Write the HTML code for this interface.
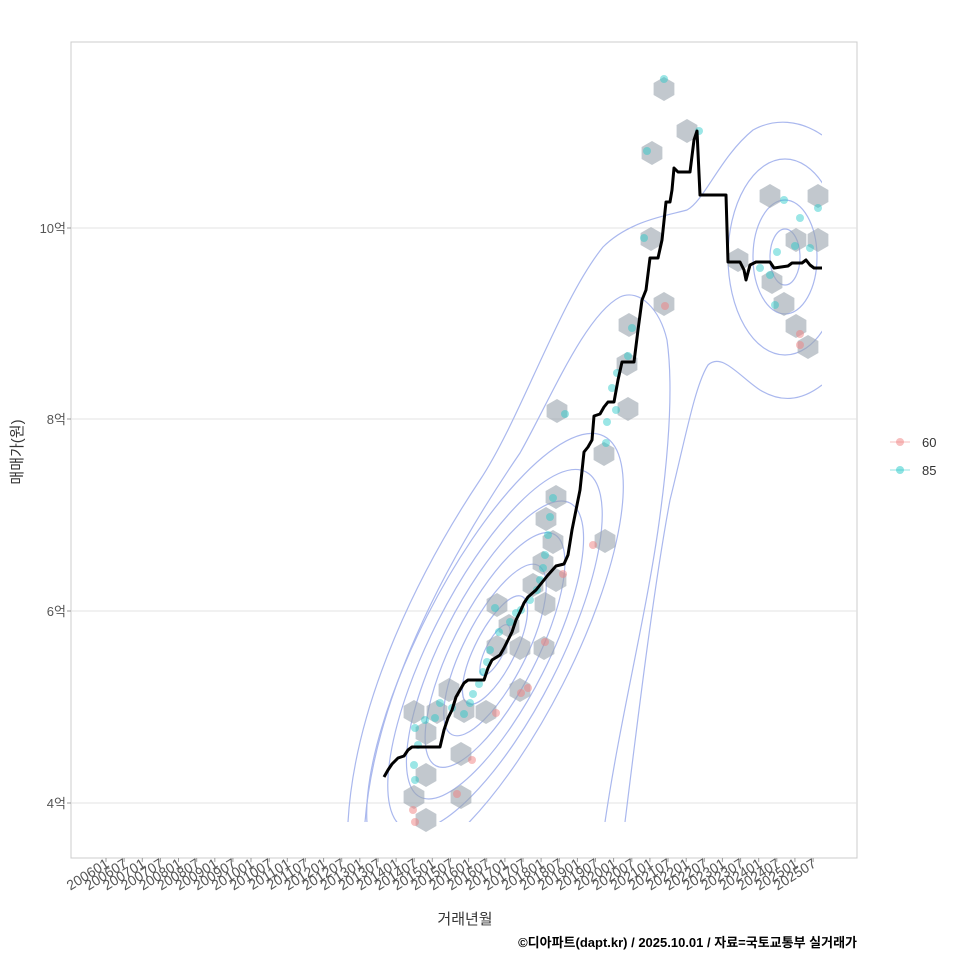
<!DOCTYPE html>
<html><head><meta charset="utf-8"><style>
html,body{margin:0;padding:0;background:#fff;overflow:hidden;width:960px;height:960px}
svg{display:block}
</style></head><body>
<svg width="960" height="960" viewBox="0 0 960 960" xmlns="http://www.w3.org/2000/svg" font-family="Liberation Sans, Noto Sans CJK KR, sans-serif">
<defs>
<clipPath id="kc"><rect x="300" y="60" width="522" height="762"/></clipPath>
<polygon id="hx" points="0,-12 10.4,-6 10.4,6 0,12 -10.4,6 -10.4,-6"/>
</defs>
<rect x="71" y="42" width="786" height="816" fill="#fff" stroke="#ccc"/>
<g stroke="#e3e3e3" stroke-width="1">
<line x1="71" x2="857" y1="228" y2="228"/><line x1="71" x2="857" y1="419" y2="419"/>
<line x1="71" x2="857" y1="611" y2="611"/><line x1="71" x2="857" y1="803" y2="803"/>
</g>
<g clip-path="url(#kc)" fill="none" stroke="#aab8ee" stroke-width="1.2">
<g transform="translate(495,650) rotate(-63)">
<ellipse rx="28" ry="9"/><ellipse rx="60" ry="20"/><ellipse rx="95" ry="31"/><ellipse rx="130" ry="42"/>
<ellipse rx="165" ry="53"/><ellipse rx="200" ry="64"/><ellipse rx="240" ry="76"/>
</g>
<path d="M348,822 C355,700 420,570 480,480 C520,420 560,300 603,247 C630,220 670,215 687,210 C705,200 720,157 753,130 C775,118 800,120 822,135"/>
<path d="M365,822 C375,700 440,570 520,453 C550,400 585,315 620,297 C640,288 660,310 667,340 C674,390 668,460 658,530 C645,620 620,720 605,822"/>
<path d="M822,385 C800,402 780,402 760,390 C740,377 722,352 708,365 C695,385 685,440 670,500 C655,580 640,700 625,822"/>
<g transform="translate(785,257)">
<ellipse rx="15" ry="28"/><ellipse rx="32" ry="57"/><ellipse rx="57" ry="98"/>
</g>
</g>
<g fill="#9aa3ad" fill-opacity="0.6">
<use href="#hx" x="664" y="89"/><use href="#hx" x="687" y="131"/><use href="#hx" x="652" y="153"/><use href="#hx" x="651" y="239"/>
<use href="#hx" x="664" y="304"/><use href="#hx" x="629" y="325"/><use href="#hx" x="627" y="364"/><use href="#hx" x="628" y="409"/>
<use href="#hx" x="557" y="411"/><use href="#hx" x="604" y="454"/><use href="#hx" x="556" y="497"/><use href="#hx" x="546" y="519"/>
<use href="#hx" x="553" y="542"/><use href="#hx" x="605" y="541"/><use href="#hx" x="543" y="563"/><use href="#hx" x="556" y="580"/>
<use href="#hx" x="545" y="604"/><use href="#hx" x="509" y="626"/><use href="#hx" x="497" y="605"/><use href="#hx" x="497" y="647"/>
<use href="#hx" x="544" y="648"/><use href="#hx" x="520" y="690"/><use href="#hx" x="486" y="712"/><use href="#hx" x="464" y="711"/>
<use href="#hx" x="449" y="690"/><use href="#hx" x="414" y="712"/><use href="#hx" x="426" y="733"/><use href="#hx" x="437" y="712"/>
<use href="#hx" x="461" y="754"/><use href="#hx" x="426" y="775"/><use href="#hx" x="414" y="797"/><use href="#hx" x="461" y="797"/>
<use href="#hx" x="426" y="820"/><use href="#hx" x="738" y="260"/><use href="#hx" x="770" y="196"/><use href="#hx" x="818" y="196"/>
<use href="#hx" x="796" y="240"/><use href="#hx" x="818" y="240"/><use href="#hx" x="772" y="282"/><use href="#hx" x="784" y="304"/>
<use href="#hx" x="796" y="326"/><use href="#hx" x="808" y="347"/><use href="#hx" x="533" y="585"/><use href="#hx" x="520" y="648"/>
</g>
<g fill="#22c7c7" fill-opacity="0.45">
<circle cx="664" cy="79" r="4"/><circle cx="647" cy="151" r="4"/><circle cx="644" cy="238" r="4"/><circle cx="632" cy="328" r="4"/>
<circle cx="628" cy="356" r="4"/><circle cx="617" cy="373" r="4"/><circle cx="612" cy="388" r="4"/><circle cx="616" cy="410" r="4"/>
<circle cx="607" cy="422" r="4"/><circle cx="606" cy="443" r="4"/><circle cx="553" cy="498" r="4"/><circle cx="550" cy="517" r="4"/>
<circle cx="548" cy="535" r="4"/><circle cx="545" cy="555" r="4"/><circle cx="543" cy="568" r="4"/><circle cx="540" cy="580" r="4"/>
<circle cx="537" cy="590" r="4"/><circle cx="530" cy="600" r="4"/><circle cx="521" cy="610" r="4"/><circle cx="516" cy="613" r="4"/>
<circle cx="510" cy="622" r="4"/><circle cx="499" cy="632" r="4"/><circle cx="490" cy="650" r="4"/><circle cx="487" cy="662" r="4"/>
<circle cx="483" cy="672" r="4"/><circle cx="479" cy="684" r="4"/><circle cx="473" cy="694" r="4"/><circle cx="470" cy="703" r="4"/>
<circle cx="464" cy="714" r="4"/><circle cx="452" cy="708" r="4"/><circle cx="440" cy="703" r="4"/><circle cx="435" cy="718" r="4"/>
<circle cx="425" cy="720" r="4"/><circle cx="415" cy="728" r="4"/><circle cx="418" cy="745" r="4"/><circle cx="414" cy="765" r="4"/>
<circle cx="415" cy="780" r="4"/><circle cx="495" cy="608" r="4"/><circle cx="699" cy="131" r="4"/><circle cx="784" cy="200" r="4"/>
<circle cx="800" cy="218" r="4"/><circle cx="818" cy="208" r="4"/><circle cx="777" cy="252" r="4"/><circle cx="795" cy="246" r="4"/>
<circle cx="810" cy="248" r="4"/><circle cx="770" cy="275" r="4"/><circle cx="775" cy="305" r="4"/><circle cx="760" cy="268" r="4"/>
<circle cx="565" cy="414" r="4"/>
</g>
<g fill="#f08080" fill-opacity="0.5">
<circle cx="665" cy="306" r="4"/><circle cx="593" cy="545" r="4"/><circle cx="563" cy="574" r="4"/><circle cx="545" cy="642" r="4"/>
<circle cx="528" cy="688" r="4"/><circle cx="521" cy="693" r="4"/><circle cx="496" cy="713" r="4"/><circle cx="472" cy="760" r="4"/>
<circle cx="457" cy="794" r="4"/><circle cx="413" cy="810" r="4"/><circle cx="415" cy="822" r="4"/><circle cx="800" cy="334" r="4"/>
<circle cx="800" cy="345" r="4"/>
</g>
<polyline fill="none" stroke="#000" stroke-width="3" stroke-linejoin="round" points="384,777 388,770 392,764 398,758 404,756 408,750 412,747 440,747 444,730 448,718 452,710 456,697 460,690 464,683 468,680 484,680 488,668 492,660 500,655 504,648 508,640 512,632 516,620 520,612 524,603 528,597 536,590 540,585 544,580 548,575 556,566 564,564 568,555 572,530 576,510 580,490 584,452 588,447 592,440 594,416 600,414 604,407 608,402 614,402 618,380 622,362 634,362 638,330 642,300 646,290 650,258 658,258 662,240 666,202 670,202 672,190 674,168 678,172 690,172 694,140 697,131 700,195 726,195 728,262 740,262 744,270 746,280 750,265 756,262 770,262 774,268 788,266 792,263 802,263 806,260 810,265 814,268 822,268"/>
<g font-size="13" fill="#555" text-anchor="end">
<text x="66" y="233">10억</text><text x="66" y="424">8억</text><text x="66" y="616">6억</text><text x="66" y="808">4억</text>
</g>
<g stroke="#999"><line x1="67" x2="71" y1="228" y2="228"/><line x1="67" x2="71" y1="419" y2="419"/><line x1="67" x2="71" y1="611" y2="611"/><line x1="67" x2="71" y1="803" y2="803"/></g>
<g stroke="#999">
<line x1="106" x2="106" y1="858" y2="862"/><line x1="124.1" x2="124.1" y1="858" y2="862"/><line x1="142.3" x2="142.3" y1="858" y2="862"/><line x1="160.4" x2="160.4" y1="858" y2="862"/><line x1="178.5" x2="178.5" y1="858" y2="862"/><line x1="196.7" x2="196.7" y1="858" y2="862"/><line x1="214.8" x2="214.8" y1="858" y2="862"/><line x1="232.9" x2="232.9" y1="858" y2="862"/><line x1="251" x2="251" y1="858" y2="862"/><line x1="269.2" x2="269.2" y1="858" y2="862"/><line x1="287.3" x2="287.3" y1="858" y2="862"/><line x1="305.4" x2="305.4" y1="858" y2="862"/><line x1="323.6" x2="323.6" y1="858" y2="862"/><line x1="341.7" x2="341.7" y1="858" y2="862"/><line x1="359.8" x2="359.8" y1="858" y2="862"/><line x1="378" x2="378" y1="858" y2="862"/><line x1="396.1" x2="396.1" y1="858" y2="862"/><line x1="414.2" x2="414.2" y1="858" y2="862"/><line x1="432.3" x2="432.3" y1="858" y2="862"/><line x1="450.5" x2="450.5" y1="858" y2="862"/><line x1="468.6" x2="468.6" y1="858" y2="862"/><line x1="486.7" x2="486.7" y1="858" y2="862"/><line x1="504.9" x2="504.9" y1="858" y2="862"/><line x1="523" x2="523" y1="858" y2="862"/><line x1="541.1" x2="541.1" y1="858" y2="862"/><line x1="559.3" x2="559.3" y1="858" y2="862"/><line x1="577.4" x2="577.4" y1="858" y2="862"/><line x1="595.5" x2="595.5" y1="858" y2="862"/><line x1="613.6" x2="613.6" y1="858" y2="862"/><line x1="631.8" x2="631.8" y1="858" y2="862"/><line x1="649.9" x2="649.9" y1="858" y2="862"/><line x1="668" x2="668" y1="858" y2="862"/><line x1="686.2" x2="686.2" y1="858" y2="862"/><line x1="704.3" x2="704.3" y1="858" y2="862"/><line x1="722.4" x2="722.4" y1="858" y2="862"/><line x1="740.6" x2="740.6" y1="858" y2="862"/><line x1="758.7" x2="758.7" y1="858" y2="862"/><line x1="776.8" x2="776.8" y1="858" y2="862"/><line x1="794.9" x2="794.9" y1="858" y2="862"/><line x1="813.1" x2="813.1" y1="858" y2="862"/>
</g>
<g font-size="14" fill="#555" text-anchor="end">
<text transform="translate(110,866) rotate(-32)">200601</text><text transform="translate(128.1,866) rotate(-32)">200607</text><text transform="translate(146.3,866) rotate(-32)">200701</text><text transform="translate(164.4,866) rotate(-32)">200707</text><text transform="translate(182.5,866) rotate(-32)">200801</text><text transform="translate(200.7,866) rotate(-32)">200807</text><text transform="translate(218.8,866) rotate(-32)">200901</text><text transform="translate(236.9,866) rotate(-32)">200907</text><text transform="translate(255,866) rotate(-32)">201001</text><text transform="translate(273.2,866) rotate(-32)">201007</text><text transform="translate(291.3,866) rotate(-32)">201101</text><text transform="translate(309.4,866) rotate(-32)">201107</text><text transform="translate(327.6,866) rotate(-32)">201201</text><text transform="translate(345.7,866) rotate(-32)">201207</text><text transform="translate(363.8,866) rotate(-32)">201301</text><text transform="translate(382,866) rotate(-32)">201307</text><text transform="translate(400.1,866) rotate(-32)">201401</text><text transform="translate(418.2,866) rotate(-32)">201407</text><text transform="translate(436.3,866) rotate(-32)">201501</text><text transform="translate(454.5,866) rotate(-32)">201507</text><text transform="translate(472.6,866) rotate(-32)">201601</text><text transform="translate(490.7,866) rotate(-32)">201607</text><text transform="translate(508.9,866) rotate(-32)">201701</text><text transform="translate(527,866) rotate(-32)">201707</text><text transform="translate(545.1,866) rotate(-32)">201801</text><text transform="translate(563.3,866) rotate(-32)">201807</text><text transform="translate(581.4,866) rotate(-32)">201901</text><text transform="translate(599.5,866) rotate(-32)">201907</text><text transform="translate(617.6,866) rotate(-32)">202001</text><text transform="translate(635.8,866) rotate(-32)">202007</text><text transform="translate(653.9,866) rotate(-32)">202101</text><text transform="translate(672,866) rotate(-32)">202107</text><text transform="translate(690.2,866) rotate(-32)">202201</text><text transform="translate(708.3,866) rotate(-32)">202207</text><text transform="translate(726.4,866) rotate(-32)">202301</text><text transform="translate(744.6,866) rotate(-32)">202307</text><text transform="translate(762.7,866) rotate(-32)">202401</text><text transform="translate(780.8,866) rotate(-32)">202407</text><text transform="translate(798.9,866) rotate(-32)">202501</text><text transform="translate(817.1,866) rotate(-32)">202507</text>
</g>
<text x="465" y="924" font-size="15" fill="#333" text-anchor="middle">거래년월</text>
<text transform="translate(22,452) rotate(-90)" font-size="15" fill="#333" text-anchor="middle">매매가(원)</text>
<text x="857" y="947" font-size="13" font-weight="bold" fill="#000" text-anchor="end">©디아파트(dapt.kr) / 2025.10.01 / 자료=국토교통부 실거래가</text>
<g font-size="13" fill="#333">
<line x1="890" x2="910" y1="442" y2="442" stroke="#f08080" stroke-opacity="0.5"/><circle cx="900" cy="442" r="4" fill="#f08080" fill-opacity="0.5"/><text x="922" y="447">60</text>
<line x1="890" x2="910" y1="470" y2="470" stroke="#22c7c7" stroke-opacity="0.5"/><circle cx="900" cy="470" r="4" fill="#22c7c7" fill-opacity="0.5"/><text x="922" y="475">85</text>
</g>
</svg>
</body></html>
